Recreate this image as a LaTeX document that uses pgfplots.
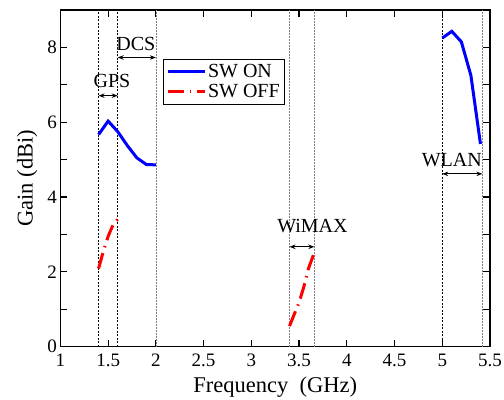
\documentclass[border=0pt]{standalone}
\usepackage{fontspec}
\setmainfont{Liberation Serif}
\usepackage{pgfplots}
\pgfplotsset{compat=1.18}
\usetikzlibrary{arrows.meta}
\begin{document}
\begin{tikzpicture}
\begin{axis}[
  scale only axis,
  width=429.6bp, height=336.7bp,
  xmin=1, xmax=5.5, ymin=0, ymax=9,
  xtick={1,1.5,...,5.5},
  ytick={0,2,4,6,8},
  minor ytick={1,3,5,7},
  tick align=inside,
  major tick length=7bp, minor tick length=7bp,
  tick style={black, line width=1.2bp},
  axis line style={black, line width=1.5bp},
  /pgf/number format/assume math mode=true,
  tick label style={font=\fontsize{19bp}{21bp}\selectfont},
  xticklabel style={yshift=-4bp},
  label style={font=\fontsize{22.5bp}{25bp}\selectfont},
  xlabel={Frequency\ \ (GHz)},
  ylabel={Gain (dBi)},
  xlabel style={yshift=-3bp},
  ylabel style={yshift=3bp},
  legend style={at={(0.238,0.854)}, anchor=north west, draw=black, line width=0.8bp,
    font=\fontsize{20bp}{22bp}\selectfont, inner xsep=3bp, inner ysep=3bp,
    row sep=1bp, cells={anchor=west}},
  legend image code/.code={\draw[#1] (0bp,0bp) -- (37bp,0bp);},
  clip=false,
]
% reference band lines
\addplot[forget plot, black, line width=0.6bp, dash pattern=on 2bp off 1.5bp] coordinates {(1.4,0) (1.4,9)};
\addplot[forget plot, black, line width=0.6bp, dash pattern=on 2bp off 1.5bp] coordinates {(1.6,0) (1.6,9)};
\addplot[forget plot, gray, line width=0.6bp, dash pattern=on 1.5bp off 1.5bp] coordinates {(2.0,0) (2.0,9)};
\addplot[forget plot, gray, line width=0.6bp, dash pattern=on 1.5bp off 1.5bp] coordinates {(3.4,0) (3.4,9)};
\addplot[forget plot, gray, line width=0.6bp, dash pattern=on 1.5bp off 1.5bp] coordinates {(3.66,0) (3.66,9)};
\addplot[forget plot, black, line width=0.6bp, dash pattern=on 2bp off 1.5bp] coordinates {(5.0,0) (5.0,9)};
\addplot[forget plot, gray, line width=0.6bp, dash pattern=on 1.5bp off 1.5bp] coordinates {(5.42,0) (5.42,9)};

% SW ON
\addplot[blue, line width=3bp] coordinates {
 (1.4,5.67) (1.5,6.03) (1.6,5.75) (1.7,5.38) (1.8,5.05) (1.9,4.87) (2.0,4.86)
};
\addlegendentry{SW ON}
\addplot[red, line width=3bp, dash pattern=on 16bp off 6bp on 1.5bp off 6bp] coordinates {
 (1.4,2.09) (1.45,2.55) (1.5,2.95) (1.55,3.25) (1.6,3.4)
};
\addlegendentry{SW OFF}
\addplot[forget plot, blue, line width=3bp] coordinates {
 (5.0,8.25) (5.1,8.43) (5.2,8.15) (5.3,7.25) (5.4,5.42)
};
\addplot[forget plot, red, line width=3bp, dash pattern=on 16bp off 6bp on 1.5bp off 6bp] coordinates {
 (3.4,0.55) (3.45,0.87) (3.5,1.18) (3.55,1.6) (3.6,2.1) (3.65,2.45)
};

% band arrows and labels
\draw[{Stealth[length=6bp]}-{Stealth[length=6bp]}, line width=1.2bp] (axis cs:1.4,6.71) -- (axis cs:1.6,6.71);
\node[font=\fontsize{20bp}{22bp}\selectfont] at (axis cs:1.54,7.1) {GPS};
\draw[{Stealth[length=6bp]}-{Stealth[length=6bp]}, line width=1.2bp] (axis cs:1.6,7.73) -- (axis cs:2.0,7.73);
\node[font=\fontsize{20bp}{22bp}\selectfont] at (axis cs:1.79,8.09) {DCS};
\draw[{Stealth[length=6bp]}-{Stealth[length=6bp]}, line width=1.2bp] (axis cs:3.4,2.67) -- (axis cs:3.66,2.67);
\node[font=\fontsize{20bp}{22bp}\selectfont] at (axis cs:3.64,3.22) {WiMAX};
\draw[{Stealth[length=6bp]}-{Stealth[length=6bp]}, line width=1.2bp] (axis cs:5.0,4.62) -- (axis cs:5.42,4.62);
\node[font=\fontsize{20bp}{22bp}\selectfont] at (axis cs:5.10,5.0) {WLAN};
\end{axis}
\pgfresetboundingbox
\useasboundingbox ([shift={(-60.4bp,-53.3bp)}]current axis.south west) rectangle ([shift={(14bp,10bp)}]current axis.north east);
\end{tikzpicture}
\end{document}
